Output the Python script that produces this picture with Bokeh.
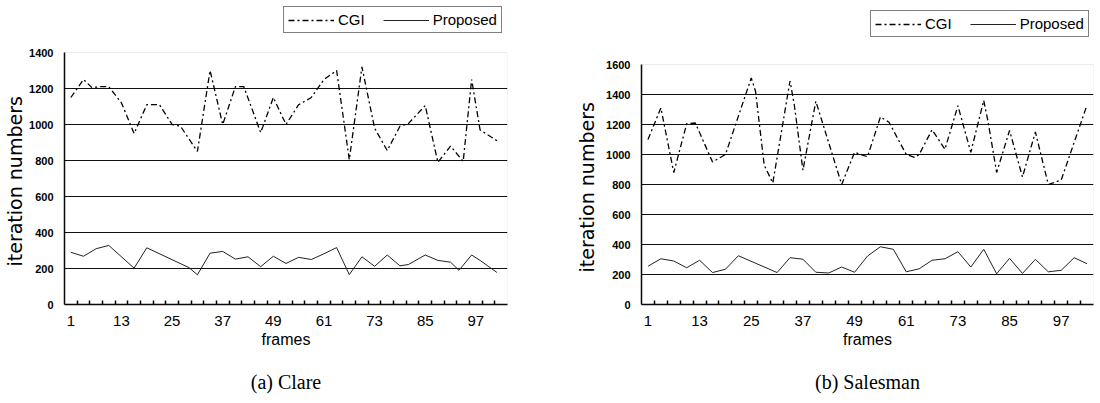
from bokeh.plotting import figure
from bokeh.models import (FixedTicker, Legend, LegendItem, Title, Range1d, BoxAnnotation,
                          LinearAxis)
from bokeh.layouts import row
from bokeh.embed import file_html
from bokeh.resources import INLINE

# ---------------- data ----------------
x_tick_labels = [1, 13, 25, 37, 49, 61, 73, 85, 97]

clare_cgi_frames = [1, 4, 6, 8, 10, 13, 16, 19, 22, 25, 27, 31, 34, 37, 40, 42, 46, 49,
                    52, 55, 58, 61, 64, 67, 70, 73, 76, 79, 81, 85, 88, 91, 94, 96, 98, 102]
clare_cgi = [1150, 1250, 1205, 1210, 1210, 1120, 950, 1110, 1110, 1000, 990, 850, 1300, 1000,
             1210, 1210, 955, 1150, 1000, 1110, 1150, 1250, 1300, 805, 1320, 980, 855, 990,
             1005, 1105, 790, 880, 795, 1250, 970, 910]

clare_prop_frames = [1, 4, 7, 10, 16, 19, 29, 31, 34, 37, 40, 43, 46, 49, 52, 55, 58, 61, 64,
                     67, 70, 73, 76, 79, 81, 85, 88, 91, 93, 96, 98, 102]
clare_prop = [290, 268, 310, 328, 202, 315, 205, 165, 285, 295, 252, 265, 210, 268, 228, 262,
              250, 282, 316, 166, 265, 212, 275, 215, 222, 275, 245, 235, 190, 275, 245, 178]

sales_cgi_frames = [1, 4, 7, 10, 12, 16, 19, 25, 26, 28, 30, 34, 35, 37, 40, 46, 49, 52, 55,
                    57, 61, 63, 64, 67, 70, 73, 76, 79, 80, 82, 85, 88, 91, 94, 97, 103]
sales_cgi = [1100, 1310, 880, 1205, 1210, 950, 1000, 1510, 1420, 930, 810, 1490, 1330, 895,
             1355, 800, 1015, 985, 1250, 1215, 1000, 980, 1000, 1165, 1035, 1325, 1015, 1360,
             1220, 880, 1160, 850, 1150, 800, 830, 1330]

sales_prop_frames = [1, 4, 7, 10, 13, 16, 19, 22, 31, 34, 37, 40, 43, 46, 49, 52, 55, 58, 61,
                     64, 67, 70, 73, 76, 79, 82, 85, 88, 91, 94, 97, 100, 103]
sales_prop = [255, 305, 290, 245, 295, 213, 235, 325, 213, 312, 302, 215, 210, 250, 215, 323,
              385, 368, 218, 238, 295, 305, 352, 250, 368, 205, 308, 207, 301, 218, 228, 312, 272]

minor_x = [2.5 + 3 * k for k in range(34)]
X_START, X_END = -0.5, 104.5

# page layout (pixels): both frames span FRAME_TOP..FRAME_BOTTOM; the chart area of each
# panel starts lower, so the legend can sit inside the frame above it
FRAME_TOP, FRAME_BOTTOM = 5, 304
FIG_H = 402


def make_chart(caption, cgi_x, cgi_y, prop_x, prop_y, ymax, chart_top_px, width,
               border_l, border_r, legend_loc, ytitle_bottom_px, ytitle_standoff):
    ytop = ymax * (FRAME_BOTTOM - FRAME_TOP) / (FRAME_BOTTOM - chart_top_px)
    p = figure(width=width, height=FIG_H, output_backend="svg", toolbar_location=None,
               title=None,
               x_range=Range1d(X_START, X_END), y_range=Range1d(0, ytop),
               min_border_left=border_l, min_border_right=border_r,
               min_border_top=FRAME_TOP, min_border_bottom=FIG_H - FRAME_BOTTOM)
    p.background_fill_color = "white"
    p.border_fill_color = "white"
    p.outline_line_color = None

    r_cgi = p.line(cgi_x, cgi_y, line_color="black", line_width=1.3, line_dash="6 3 2 3")
    r_prop = p.line(prop_x, prop_y, line_color="#222222", line_width=1.0)

    # x axis
    xa = p.xaxis[0]
    xa.ticker = FixedTicker(ticks=x_tick_labels, minor_ticks=minor_x)
    xa.major_tick_in = 0
    xa.major_tick_out = 0
    xa.minor_tick_in = 4
    xa.minor_tick_out = 0
    xa.minor_tick_line_color = "black"
    xa.minor_tick_line_width = 1.5
    xa.axis_line_color = "black"
    xa.axis_line_width = 1.5
    xa.major_label_text_font = "Liberation Sans"
    xa.major_label_text_font_size = "15px"
    xa.major_label_text_color = "black"
    xa.major_label_standoff = 11
    xa.axis_label = "frames"
    xa.axis_label_text_font = "Liberation Sans"
    xa.axis_label_text_font_size = "16px"
    xa.axis_label_text_font_style = "normal"
    xa.axis_label_text_color = "black"
    xa.axis_label_standoff = 2

    # y axis
    ya = p.yaxis[0]
    ya.ticker = FixedTicker(ticks=list(range(0, ymax + 1, 200)), minor_ticks=[])
    ya.bounds = (0, ymax)
    ya.major_tick_in = 0
    ya.major_tick_out = 0
    ya.axis_line_color = "black"
    ya.axis_line_width = 1.5
    ya.major_label_text_font = "Liberation Sans"
    ya.major_label_text_font_size = "11px"
    ya.major_label_text_font_style = "bold"
    ya.major_label_text_color = "black"
    ya.major_label_standoff = 11

    p.xgrid.visible = False
    p.ygrid.ticker = FixedTicker(ticks=list(range(200, ymax - 199, 200)))
    p.ygrid.grid_line_color = "#111111"
    p.ygrid.grid_line_width = 1.2

    # dotted border of the chart area
    p.add_layout(BoxAnnotation(left=X_START, right=X_END, bottom=0, top=ymax,
                               fill_alpha=0, line_color="#777777", line_dash="1 1",
                               line_width=1))

    legend = Legend(items=[LegendItem(label="CGI", renderers=[r_cgi]),
                           LegendItem(label="Proposed", renderers=[r_prop])],
                    orientation="horizontal", location=legend_loc, margin=0,
                    padding=4, spacing=18, label_standoff=4,
                    glyph_width=46, glyph_height=16, label_height=16,
                    label_text_font="Liberation Sans", label_text_font_size="15px",
                    label_text_color="black",
                    border_line_color="black", border_line_width=1,
                    background_fill_color="white", background_fill_alpha=1.0)
    p.add_layout(legend, "center")

    # y-axis title, started at the height where the reference starts it
    p.add_layout(Title(text="iteration numbers", align="left",
                       offset=FRAME_BOTTOM - ytitle_bottom_px,
                       text_font="DejaVu Sans", text_font_size="19px",
                       text_font_style="normal", text_color="black",
                       standoff=ytitle_standoff), "left")

    # caption below the x axis (an empty axis that carries only its label)
    cap = LinearAxis(ticker=FixedTicker(ticks=[], minor_ticks=[]), axis_line_color=None,
                     major_tick_line_color=None, minor_tick_line_color=None,
                     major_tick_in=0, major_tick_out=0, minor_tick_in=0, minor_tick_out=0,
                     major_label_standoff=0, axis_label=caption, axis_label_standoff=20,
                     axis_label_text_font="Liberation Serif",
                     axis_label_text_font_size="20px", axis_label_text_font_style="normal",
                     axis_label_text_color="black")
    p.add_layout(cap, "below")
    return p


p1 = make_chart("(a) Clare", clare_cgi_frames, clare_cgi, clare_prop_frames, clare_prop,
                1400, 52, 550, 61, 43, (219, 271), 266, 2)
p2 = make_chart("(b) Salesman", sales_cgi_frames, sales_cgi, sales_prop_frames, sales_prop,
                1600, 64, 546, 91, 3, (229, 267), 272, 12)

layout = row(p1, p2)
open("out.html", "w").write(file_html(layout, INLINE))
